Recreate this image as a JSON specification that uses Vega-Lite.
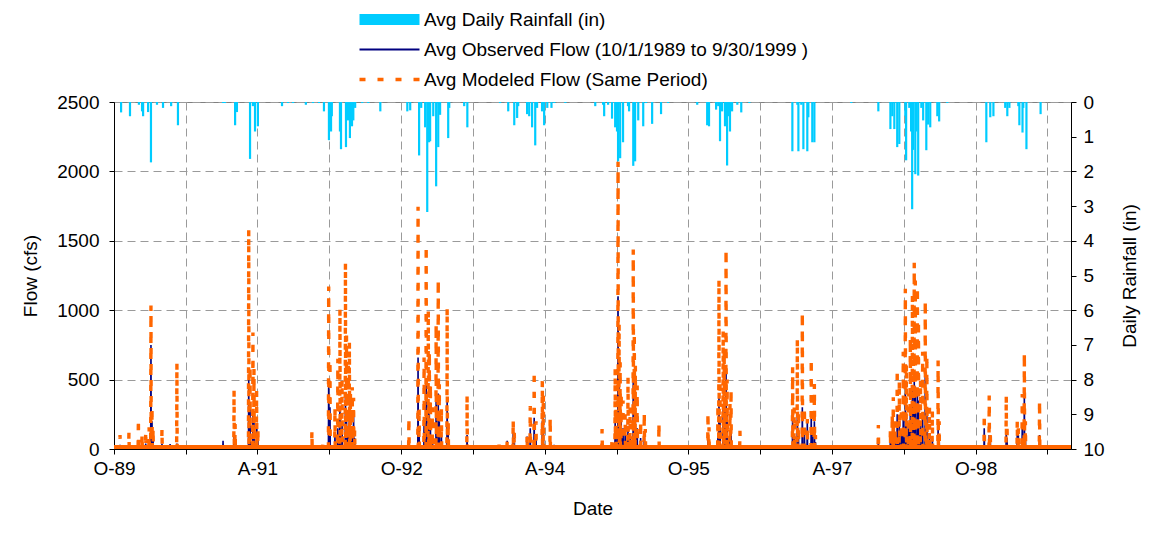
{
"$schema": "https://vega.github.io/schema/vega-lite/v6.json",
"width": 957, "height": 347,
"autosize": {"type": "none"},
"padding": {"left": 114, "top": 102, "right": 80, "bottom": 84},
"background": "white",
"config": {
  "font": "Liberation Sans",
  "view": {"stroke": "#808080", "strokeWidth": 1},
  "axis": {"labelFontSize": 19, "titleFontSize": 19, "labelColor": "#000", "titleColor": "#000", "titleFontWeight": "normal", "domainColor": "#000", "tickColor": "#000", "tickSize": 5, "labelFont": "Liberation Sans", "titleFont": "Liberation Sans", "gridDash": [8, 5], "gridColor": "#9a9a9a", "gridWidth": 1}
},
"resolve": {"scale": {"y": "independent"}},
"layer": [
{
 "data": {"values": [
{"d":"1989-10-01","o":5,"m":10},
{"d":"1989-10-23","o":5,"m":10},{"d":"1989-10-24","o":30,"m":100},{"d":"1989-10-25","o":5,"m":10},
{"d":"1989-11-26","o":5,"m":10},{"d":"1989-11-27","o":40,"m":120},{"d":"1989-11-28","o":5,"m":10},
{"d":"1990-01-01","o":5,"m":10},{"d":"1990-01-02","o":60,"m":216},{"d":"1990-01-03","o":5,"m":10},
{"d":"1990-01-15","o":5,"m":10},{"d":"1990-01-16","o":50,"m":108},{"d":"1990-01-17","o":5,"m":10},
{"d":"1990-01-29","o":5,"m":10},{"d":"1990-01-30","o":40,"m":130},{"d":"1990-01-31","o":5,"m":10},
{"d":"1990-02-11","o":5,"m":10},{"d":"1990-02-12","o":70,"m":156},{"d":"1990-02-13","o":5,"m":10},
{"d":"1990-02-18","o":5,"m":10},{"d":"1990-02-19","o":750,"m":1034},{"d":"1990-02-20","o":5,"m":10},
{"d":"1990-02-22","o":5,"m":10},{"d":"1990-02-23","o":200,"m":300},{"d":"1990-02-24","o":5,"m":10},
{"d":"1990-02-26","o":5,"m":10},{"d":"1990-02-27","o":80,"m":150},{"d":"1990-02-28","o":5,"m":10},
{"d":"1990-04-01","o":5,"m":10},{"d":"1990-04-02","o":40,"m":145},{"d":"1990-04-03","o":5,"m":10},
{"d":"1990-05-02","o":5,"m":10},{"d":"1990-05-03","o":36,"m":20},{"d":"1990-05-04","o":5,"m":10},
{"d":"1990-05-28","o":5,"m":10},{"d":"1990-05-29","o":40,"m":620},{"d":"1990-05-30","o":5,"m":10},
{"d":"1990-08-05","o":5,"m":10},{"d":"1990-08-06","o":10,"m":36},{"d":"1990-08-07","o":5,"m":10},
{"d":"1990-11-20","o":5,"m":10},{"d":"1990-11-21","o":60,"m":20},{"d":"1990-11-22","o":5,"m":10},
{"d":"1991-01-01","o":5,"m":10},{"d":"1991-01-02","o":100,"m":425},{"d":"1991-01-03","o":5,"m":10},
{"d":"1991-01-05","o":5,"m":10},{"d":"1991-01-06","o":80,"m":180},{"d":"1991-01-07","o":5,"m":10},
{"d":"1991-02-26","o":5,"m":10},{"d":"1991-02-27","o":500,"m":1580},{"d":"1991-02-28","o":5,"m":10},
{"d":"1991-03-03","o":5,"m":10},{"d":"1991-03-04","o":300,"m":600},{"d":"1991-03-05","o":5,"m":10},
{"d":"1991-03-14","o":5,"m":10},{"d":"1991-03-15","o":250,"m":840},{"d":"1991-03-16","o":5,"m":10},
{"d":"1991-03-18","o":5,"m":10},{"d":"1991-03-19","o":200,"m":577},{"d":"1991-03-20","o":5,"m":10},
{"d":"1991-03-28","o":5,"m":10},{"d":"1991-03-29","o":150,"m":420},{"d":"1991-03-30","o":5,"m":10},
{"d":"1991-04-02","o":5,"m":10},{"d":"1991-04-03","o":60,"m":150},{"d":"1991-04-04","o":5,"m":10},
{"d":"1991-07-07","o":5,"m":10},{"d":"1991-07-08","o":15,"m":5},{"d":"1991-07-09","o":5,"m":10},
{"d":"1991-10-25","o":5,"m":10},{"d":"1991-10-26","o":10,"m":132},{"d":"1991-10-27","o":5,"m":10},
{"d":"1991-12-06","o":5,"m":10},{"d":"1991-12-07","o":10,"m":40},{"d":"1991-12-08","o":5,"m":10},
{"d":"1991-12-28","o":5,"m":10},{"d":"1991-12-29","o":490,"m":1170},{"d":"1991-12-30","o":5,"m":10},
{"d":"1992-01-02","o":5,"m":10},{"d":"1992-01-03","o":300,"m":637},{"d":"1992-01-04","o":5,"m":10},
{"d":"1992-01-21","o":5,"m":10},{"d":"1992-01-22","o":100,"m":300},{"d":"1992-01-23","o":5,"m":10},
{"d":"1992-02-01","o":5,"m":10},{"d":"1992-02-02","o":150,"m":650},{"d":"1992-02-03","o":5,"m":10},
{"d":"1992-02-09","o":5,"m":10},{"d":"1992-02-10","o":300,"m":1010},{"d":"1992-02-11","o":5,"m":10},
{"d":"1992-02-17","o":5,"m":10},{"d":"1992-02-18","o":200,"m":500},{"d":"1992-02-19","o":5,"m":10},
{"d":"1992-03-01","o":5,"m":10},{"d":"1992-03-02","o":400,"m":1341},{"d":"1992-03-03","o":5,"m":10},
{"d":"1992-03-05","o":5,"m":10},{"d":"1992-03-06","o":250,"m":817},{"d":"1992-03-07","o":5,"m":10},
{"d":"1992-03-12","o":5,"m":10},{"d":"1992-03-13","o":150,"m":600},{"d":"1992-03-14","o":5,"m":10},
{"d":"1992-03-16","o":5,"m":10},{"d":"1992-03-17","o":300,"m":770},{"d":"1992-03-18","o":5,"m":10},
{"d":"1992-03-20","o":5,"m":10},{"d":"1992-03-21","o":150,"m":400},{"d":"1992-03-22","o":5,"m":10},
{"d":"1992-03-27","o":5,"m":10},{"d":"1992-03-28","o":150,"m":445},{"d":"1992-03-29","o":5,"m":10},
{"d":"1992-04-01","o":5,"m":10},{"d":"1992-04-02","o":273,"m":370},{"d":"1992-04-03","o":5,"m":10},
{"d":"1992-04-05","o":5,"m":10},{"d":"1992-04-06","o":80,"m":140},{"d":"1992-04-07","o":5,"m":10},
{"d":"1992-10-29","o":5,"m":10},{"d":"1992-10-30","o":40,"m":225},{"d":"1992-10-31","o":5,"m":10},
{"d":"1992-12-03","o":5,"m":10},{"d":"1992-12-04","o":660,"m":1746},{"d":"1992-12-05","o":5,"m":10},
{"d":"1992-12-07","o":5,"m":10},{"d":"1992-12-08","o":150,"m":300},{"d":"1992-12-09","o":5,"m":10},
{"d":"1992-12-26","o":5,"m":10},{"d":"1992-12-27","o":200,"m":660},{"d":"1992-12-28","o":5,"m":10},
{"d":"1993-01-03","o":5,"m":10},{"d":"1993-01-04","o":500,"m":1463},{"d":"1993-01-05","o":5,"m":10},
{"d":"1993-01-11","o":5,"m":10},{"d":"1993-01-12","o":350,"m":1000},{"d":"1993-01-13","o":5,"m":10},
{"d":"1993-01-15","o":5,"m":10},{"d":"1993-01-16","o":250,"m":700},{"d":"1993-01-17","o":5,"m":10},
{"d":"1993-01-19","o":5,"m":10},{"d":"1993-01-20","o":200,"m":466},{"d":"1993-01-21","o":5,"m":10},
{"d":"1993-01-27","o":5,"m":10},{"d":"1993-01-28","o":100,"m":300},{"d":"1993-01-29","o":5,"m":10},
{"d":"1993-02-10","o":5,"m":10},{"d":"1993-02-11","o":350,"m":900},{"d":"1993-02-12","o":5,"m":10},
{"d":"1993-02-18","o":5,"m":10},{"d":"1993-02-19","o":400,"m":1220},{"d":"1993-02-20","o":5,"m":10},
{"d":"1993-02-22","o":5,"m":10},{"d":"1993-02-23","o":200,"m":466},{"d":"1993-02-24","o":5,"m":10},
{"d":"1993-03-02","o":5,"m":10},{"d":"1993-03-03","o":100,"m":300},{"d":"1993-03-04","o":5,"m":10},
{"d":"1993-03-24","o":5,"m":10},{"d":"1993-03-25","o":357,"m":1017},{"d":"1993-03-26","o":5,"m":10},
{"d":"1993-03-28","o":5,"m":10},{"d":"1993-03-29","o":100,"m":200},{"d":"1993-03-30","o":5,"m":10},
{"d":"1993-06-08","o":5,"m":10},{"d":"1993-06-09","o":100,"m":386},{"d":"1993-06-10","o":5,"m":10},
{"d":"1993-10-08","o":5,"m":10},{"d":"1993-10-09","o":5,"m":31},{"d":"1993-10-10","o":5,"m":10},
{"d":"1993-11-08","o":5,"m":10},{"d":"1993-11-09","o":60,"m":55},{"d":"1993-11-10","o":5,"m":10},
{"d":"1993-12-01","o":5,"m":10},{"d":"1993-12-02","o":120,"m":212},{"d":"1993-12-03","o":5,"m":10},
{"d":"1993-12-05","o":5,"m":10},{"d":"1993-12-06","o":80,"m":140},{"d":"1993-12-07","o":5,"m":10},
{"d":"1994-01-23","o":5,"m":10},{"d":"1994-01-24","o":90,"m":104},{"d":"1994-01-25","o":5,"m":10},
{"d":"1994-02-04","o":5,"m":10},{"d":"1994-02-05","o":150,"m":309},{"d":"1994-02-06","o":5,"m":10},
{"d":"1994-02-19","o":5,"m":10},{"d":"1994-02-20","o":225,"m":563},{"d":"1994-02-21","o":5,"m":10},
{"d":"1994-02-26","o":5,"m":10},{"d":"1994-02-27","o":100,"m":200},{"d":"1994-02-28","o":5,"m":10},
{"d":"1994-03-22","o":5,"m":10},{"d":"1994-03-23","o":200,"m":490},{"d":"1994-03-24","o":5,"m":10},
{"d":"1994-03-26","o":5,"m":10},{"d":"1994-03-27","o":225,"m":394},{"d":"1994-03-28","o":5,"m":10},
{"d":"1994-04-21","o":5,"m":10},{"d":"1994-04-22","o":50,"m":225},{"d":"1994-04-23","o":5,"m":10},
{"d":"1994-05-06","o":5,"m":10},{"d":"1994-05-07","o":30,"m":43},{"d":"1994-05-08","o":5,"m":10},
{"d":"1994-11-05","o":5,"m":10},{"d":"1994-11-06","o":30,"m":144},{"d":"1994-11-07","o":5,"m":10},
{"d":"1994-12-13","o":5,"m":10},{"d":"1994-12-14","o":40,"m":84},{"d":"1994-12-15","o":5,"m":10},
{"d":"1994-12-25","o":5,"m":10},{"d":"1994-12-26","o":200,"m":577},{"d":"1994-12-27","o":5,"m":10},
{"d":"1994-12-28","o":5,"m":10},{"d":"1994-12-29","o":150,"m":300},{"d":"1994-12-30","o":5,"m":10},
{"d":"1995-01-05","o":5,"m":10},{"d":"1995-01-06","o":1100,"m":2070},{"d":"1995-01-07","o":5,"m":10},
{"d":"1995-01-09","o":5,"m":10},{"d":"1995-01-10","o":500,"m":900},{"d":"1995-01-11","o":5,"m":10},
{"d":"1995-01-13","o":5,"m":10},{"d":"1995-01-14","o":400,"m":625},{"d":"1995-01-15","o":5,"m":10},
{"d":"1995-01-17","o":5,"m":10},{"d":"1995-01-18","o":200,"m":400},{"d":"1995-01-19","o":5,"m":10},
{"d":"1995-01-24","o":5,"m":10},{"d":"1995-01-25","o":150,"m":350},{"d":"1995-01-26","o":5,"m":10},
{"d":"1995-02-01","o":5,"m":10},{"d":"1995-02-02","o":100,"m":250},{"d":"1995-02-03","o":5,"m":10},
{"d":"1995-02-12","o":5,"m":10},{"d":"1995-02-13","o":150,"m":517},{"d":"1995-02-14","o":5,"m":10},
{"d":"1995-02-20","o":5,"m":10},{"d":"1995-02-21","o":100,"m":300},{"d":"1995-02-22","o":5,"m":10},
{"d":"1995-03-04","o":5,"m":10},{"d":"1995-03-05","o":500,"m":1437},{"d":"1995-03-06","o":5,"m":10},
{"d":"1995-03-08","o":5,"m":10},{"d":"1995-03-09","o":300,"m":840},{"d":"1995-03-10","o":5,"m":10},
{"d":"1995-03-12","o":5,"m":10},{"d":"1995-03-13","o":200,"m":600},{"d":"1995-03-14","o":5,"m":10},
{"d":"1995-03-19","o":5,"m":10},{"d":"1995-03-20","o":150,"m":457},{"d":"1995-03-21","o":5,"m":10},
{"d":"1995-04-01","o":5,"m":10},{"d":"1995-04-02","o":80,"m":200},{"d":"1995-04-03","o":5,"m":10},
{"d":"1995-04-15","o":5,"m":10},{"d":"1995-04-16","o":80,"m":264},{"d":"1995-04-17","o":5,"m":10},
{"d":"1995-04-19","o":5,"m":10},{"d":"1995-04-20","o":50,"m":144},{"d":"1995-04-21","o":5,"m":10},
{"d":"1995-05-15","o":5,"m":10},{"d":"1995-05-16","o":10,"m":17},{"d":"1995-05-17","o":5,"m":10},
{"d":"1995-06-10","o":5,"m":10},{"d":"1995-06-11","o":20,"m":187},{"d":"1995-06-12","o":5,"m":10},
{"d":"1995-12-14","o":5,"m":10},{"d":"1995-12-15","o":80,"m":264},{"d":"1995-12-16","o":5,"m":10},
{"d":"1995-12-18","o":5,"m":10},{"d":"1995-12-19","o":60,"m":156},{"d":"1995-12-20","o":5,"m":10},
{"d":"1996-01-21","o":5,"m":10},{"d":"1996-01-22","o":100,"m":325},{"d":"1996-01-23","o":5,"m":10},
{"d":"1996-01-25","o":5,"m":10},{"d":"1996-01-26","o":400,"m":1221},{"d":"1996-01-27","o":5,"m":10},
{"d":"1996-01-29","o":5,"m":10},{"d":"1996-01-30","o":200,"m":500},{"d":"1996-01-31","o":5,"m":10},
{"d":"1996-02-10","o":5,"m":10},{"d":"1996-02-11","o":300,"m":853},{"d":"1996-02-12","o":5,"m":10},
{"d":"1996-02-14","o":5,"m":10},{"d":"1996-02-15","o":300,"m":721},{"d":"1996-02-16","o":5,"m":10},
{"d":"1996-02-21","o":5,"m":10},{"d":"1996-02-22","o":600,"m":1437},{"d":"1996-02-23","o":5,"m":10},
{"d":"1996-02-25","o":5,"m":10},{"d":"1996-02-26","o":250,"m":500},{"d":"1996-02-27","o":5,"m":10},
{"d":"1996-03-07","o":5,"m":10},{"d":"1996-03-08","o":120,"m":325},{"d":"1996-03-09","o":5,"m":10},
{"d":"1996-03-11","o":5,"m":10},{"d":"1996-03-12","o":150,"m":432},{"d":"1996-03-13","o":5,"m":10},
{"d":"1996-04-14","o":5,"m":10},{"d":"1996-04-15","o":40,"m":132},{"d":"1996-04-16","o":5,"m":10},
{"d":"1996-11-01","o":5,"m":10},{"d":"1996-11-02","o":250,"m":589},{"d":"1996-11-03","o":5,"m":10},
{"d":"1996-11-07","o":5,"m":10},{"d":"1996-11-08","o":100,"m":300},{"d":"1996-11-09","o":5,"m":10},
{"d":"1996-11-19","o":5,"m":10},{"d":"1996-11-20","o":250,"m":793},{"d":"1996-11-21","o":5,"m":10},
{"d":"1996-11-23","o":5,"m":10},{"d":"1996-11-24","o":150,"m":276},{"d":"1996-11-25","o":5,"m":10},
{"d":"1996-12-08","o":5,"m":10},{"d":"1996-12-09","o":300,"m":985},{"d":"1996-12-10","o":5,"m":10},
{"d":"1996-12-16","o":5,"m":10},{"d":"1996-12-17","o":100,"m":300},{"d":"1996-12-18","o":5,"m":10},
{"d":"1996-12-27","o":5,"m":10},{"d":"1996-12-28","o":200,"m":216},{"d":"1996-12-29","o":5,"m":10},
{"d":"1997-01-11","o":5,"m":10},{"d":"1997-01-12","o":250,"m":649},{"d":"1997-01-13","o":5,"m":10},
{"d":"1997-01-15","o":5,"m":10},{"d":"1997-01-16","o":100,"m":300},{"d":"1997-01-17","o":5,"m":10},
{"d":"1997-01-23","o":5,"m":10},{"d":"1997-01-24","o":200,"m":469},{"d":"1997-01-25","o":5,"m":10},
{"d":"1997-01-27","o":5,"m":10},{"d":"1997-01-28","o":50,"m":100},{"d":"1997-01-29","o":5,"m":10},
{"d":"1997-09-24","o":5,"m":10},{"d":"1997-09-25","o":60,"m":173},{"d":"1997-09-26","o":5,"m":10},
{"d":"1997-11-09","o":5,"m":10},{"d":"1997-11-10","o":80,"m":144},{"d":"1997-11-11","o":5,"m":10},
{"d":"1997-11-16","o":5,"m":10},{"d":"1997-11-17","o":100,"m":252},{"d":"1997-11-18","o":5,"m":10},
{"d":"1997-11-20","o":5,"m":10},{"d":"1997-11-21","o":150,"m":373},{"d":"1997-11-22","o":5,"m":10},
{"d":"1997-11-27","o":5,"m":10},{"d":"1997-11-28","o":100,"m":200},{"d":"1997-11-29","o":5,"m":10},
{"d":"1997-12-05","o":5,"m":10},{"d":"1997-12-06","o":250,"m":577},{"d":"1997-12-07","o":5,"m":10},
{"d":"1997-12-13","o":5,"m":10},{"d":"1997-12-14","o":200,"m":493},{"d":"1997-12-15","o":5,"m":10},
{"d":"1997-12-21","o":5,"m":10},{"d":"1997-12-22","o":120,"m":300},{"d":"1997-12-23","o":5,"m":10},
{"d":"1997-12-28","o":5,"m":10},{"d":"1997-12-29","o":250,"m":700},{"d":"1997-12-30","o":5,"m":10},
{"d":"1998-01-05","o":5,"m":10},{"d":"1998-01-06","o":400,"m":1154},{"d":"1998-01-07","o":5,"m":10},
{"d":"1998-01-09","o":5,"m":10},{"d":"1998-01-10","o":250,"m":613},{"d":"1998-01-11","o":5,"m":10},
{"d":"1998-01-17","o":5,"m":10},{"d":"1998-01-18","o":150,"m":400},{"d":"1998-01-19","o":5,"m":10},
{"d":"1998-01-24","o":5,"m":10},{"d":"1998-01-25","o":300,"m":800},{"d":"1998-01-26","o":5,"m":10},
{"d":"1998-02-01","o":5,"m":10},{"d":"1998-02-02","o":450,"m":1106},{"d":"1998-02-03","o":5,"m":10},
{"d":"1998-02-05","o":5,"m":10},{"d":"1998-02-06","o":300,"m":700},{"d":"1998-02-07","o":5,"m":10},
{"d":"1998-02-08","o":5,"m":10},{"d":"1998-02-09","o":500,"m":1341},{"d":"1998-02-10","o":5,"m":10},
{"d":"1998-02-12","o":5,"m":10},{"d":"1998-02-13","o":450,"m":1214},{"d":"1998-02-14","o":5,"m":10},
{"d":"1998-02-20","o":5,"m":10},{"d":"1998-02-21","o":400,"m":1166},{"d":"1998-02-22","o":5,"m":10},
{"d":"1998-02-24","o":5,"m":10},{"d":"1998-02-25","o":350,"m":925},{"d":"1998-02-26","o":5,"m":10},
{"d":"1998-03-04","o":5,"m":10},{"d":"1998-03-05","o":200,"m":500},{"d":"1998-03-06","o":5,"m":10},
{"d":"1998-03-12","o":5,"m":10},{"d":"1998-03-13","o":250,"m":700},{"d":"1998-03-14","o":5,"m":10},
{"d":"1998-03-22","o":5,"m":10},{"d":"1998-03-23","o":577,"m":1070},{"d":"1998-03-24","o":5,"m":10},
{"d":"1998-03-28","o":5,"m":10},{"d":"1998-03-29","o":300,"m":673},{"d":"1998-03-30","o":5,"m":10},
{"d":"1998-04-07","o":5,"m":10},{"d":"1998-04-08","o":100,"m":300},{"d":"1998-04-09","o":5,"m":10},
{"d":"1998-04-18","o":5,"m":10},{"d":"1998-04-19","o":80,"m":276},{"d":"1998-04-20","o":5,"m":10},
{"d":"1998-05-10","o":5,"m":10},{"d":"1998-05-11","o":150,"m":637},{"d":"1998-05-12","o":5,"m":10},
{"d":"1998-05-14","o":5,"m":10},{"d":"1998-05-15","o":80,"m":200},{"d":"1998-05-16","o":5,"m":10},
{"d":"1998-11-02","o":5,"m":10},{"d":"1998-11-03","o":150,"m":252},{"d":"1998-11-04","o":5,"m":10},
{"d":"1998-11-21","o":5,"m":10},{"d":"1998-11-22","o":100,"m":385},{"d":"1998-11-23","o":5,"m":10},
{"d":"1998-11-25","o":5,"m":10},{"d":"1998-11-26","o":60,"m":132},{"d":"1998-11-27","o":5,"m":10},
{"d":"1999-01-25","o":5,"m":10},{"d":"1999-01-26","o":120,"m":385},{"d":"1999-01-27","o":5,"m":10},
{"d":"1999-01-28","o":5,"m":10},{"d":"1999-01-29","o":80,"m":180},{"d":"1999-01-30","o":5,"m":10},
{"d":"1999-03-08","o":5,"m":10},{"d":"1999-03-09","o":100,"m":204},{"d":"1999-03-10","o":5,"m":10},
{"d":"1999-03-12","o":5,"m":10},{"d":"1999-03-13","o":100,"m":150},{"d":"1999-03-14","o":5,"m":10},
{"d":"1999-03-27","o":5,"m":10},{"d":"1999-03-28","o":150,"m":397},{"d":"1999-03-29","o":5,"m":10},
{"d":"1999-04-04","o":5,"m":10},{"d":"1999-04-05","o":400,"m":692},{"d":"1999-04-06","o":5,"m":10},
{"d":"1999-04-08","o":5,"m":10},{"d":"1999-04-09","o":100,"m":200},{"d":"1999-04-10","o":5,"m":10},
{"d":"1999-06-01","o":5,"m":10},{"d":"1999-06-02","o":100,"m":349},{"d":"1999-06-03","o":5,"m":10},
{"d":"1999-09-30","o":5,"m":10}
 ]},
 "layer": [
  {
   "mark": {"type": "line", "strokeWidth": 1.6, "clip": true},
   "encoding": {
    "x": {"field": "d", "type": "temporal", "title": "Date",
      "scale": {"type": "utc", "domain": [{"year":1989,"month":10,"date":1,"utc":true},{"year":1999,"month":9,"date":30,"utc":true}]},
      "axis": {"values": [{"year":1989,"month":10,"date":1,"utc":true},{"year":1990,"month":7,"date":1,"utc":true},{"year":1991,"month":4,"date":1,"utc":true},{"year":1992,"month":1,"date":1,"utc":true},{"year":1992,"month":10,"date":1,"utc":true},{"year":1993,"month":7,"date":1,"utc":true},{"year":1994,"month":4,"date":1,"utc":true},{"year":1995,"month":1,"date":1,"utc":true},{"year":1995,"month":10,"date":1,"utc":true},{"year":1996,"month":7,"date":1,"utc":true},{"year":1997,"month":4,"date":1,"utc":true},{"year":1998,"month":1,"date":1,"utc":true},{"year":1998,"month":10,"date":1,"utc":true},{"year":1999,"month":7,"date":1,"utc":true}],
        "labelExpr": "(utcFormat(datum.value,'%m')=='10' || utcFormat(datum.value,'%m')=='04') ? substring(utcFormat(datum.value,'%b'),0,1) + '-' + utcFormat(datum.value,'%y') : ''",
        "grid": true, "labelPadding": 5, "titlePadding": 21, "labelFlush": false, "labelOverlap": false}},
    "y": {"field": "o", "type": "quantitative", "title": "Flow (cfs)",
      "scale": {"domain": [0, 2500], "nice": false},
      "axis": {"values": [0, 500, 1000, 1500, 2000, 2500], "format": "d", "grid": true, "labelPadding": 10, "titlePadding": 16}},
    "color": {"datum": "Avg Observed Flow (10/1/1989 to 9/30/1999 )",
      "scale": {"domain": ["Avg Daily Rainfall (in)", "Avg Observed Flow (10/1/1989 to 9/30/1999 )", "Avg Modeled Flow (Same Period)"], "range": ["#00CCFF", "#000080", "#FF6600"]},
      "legend": {"orient": "none", "legendX": 266, "legendY": -92, "direction": "vertical", "title": null,
        "symbolType": "M-6,0H6", "symbolSize": 100, "symbolStrokeWidth": 2, "symbolOpacity": 1,
        "labelFontSize": 19, "labelFont": "Liberation Sans", "labelColor": "#000", "labelOffset": 25, "rowPadding": 10, "labelLimit": 700,
        "encode": {"symbols": {"update": {
          "shape": {"signal": "datum.value == 'Avg Daily Rainfall (in)' ? 'M-6,-1.1H6V1.1H-6Z' : 'M-6,0H6'"},
          "fill": {"signal": "datum.value == 'Avg Daily Rainfall (in)' ? '#00CCFF' : 'transparent'"},
          "strokeDash": {"signal": "datum.value == 'Avg Modeled Flow (Same Period)' ? [6,12] : [1,0]"},
          "strokeJoin": {"value": "bevel"},
          "strokeWidth": {"signal": "datum.value == 'Avg Daily Rainfall (in)' ? 0 : (datum.value == 'Avg Modeled Flow (Same Period)' ? 3.5 : 2)"}}}}}}
   }
  },
  {
   "mark": {"type": "line", "strokeWidth": 3.4, "strokeDash": [6, 10], "clip": true},
   "encoding": {
    "x": {"field": "d", "type": "temporal", "title": "Date"},
    "y": {"field": "m", "type": "quantitative", "title": "Flow (cfs)"},
    "color": {"datum": "Avg Modeled Flow (Same Period)"}
   }
  },
  {
   "mark": {"type": "line", "strokeWidth": 4, "color": "#FF6600"},
   "encoding": {
    "x": {"field": "d", "type": "temporal", "title": "Date"},
    "y": {"datum": 14, "type": "quantitative", "title": "Flow (cfs)"}
   }
  }
 ]
},
{
 "data": {"values": [
{"d":"1989-10-28","r":0.30},{"d":"1989-12-01","r":0.41},{"d":"1990-01-04","r":0.08},{"d":"1990-01-16","r":0.27},{"d":"1990-01-20","r":0.41},{"d":"1990-02-08","r":0.29},{"d":"1990-02-19","r":1.74},{"d":"1990-03-14","r":0.08},{"d":"1990-04-06","r":0.17},{"d":"1990-05-07","r":0.12},{"d":"1990-06-02","r":0.67},
{"d":"1990-11-21","r":0.03},{"d":"1990-11-28","r":0.03},{"d":"1991-01-06","r":0.67},{"d":"1991-01-13","r":0.29},{"d":"1991-03-04","r":1.64},{"d":"1991-03-15","r":0.12},{"d":"1991-03-23","r":0.85},{"d":"1991-04-03","r":0.70},{"d":"1991-07-04","r":0.12},{"d":"1991-07-27","r":0.03},{"d":"1991-08-15","r":0.03},
{"d":"1991-10-03","r":0.08},{"d":"1991-10-30","r":0.03},{"d":"1991-11-22","r":0.03},{"d":"1991-12-11","r":0.27},{"d":"1991-12-30","r":1.10},{"d":"1992-01-07","r":0.85},{"d":"1992-01-10","r":0.41},{"d":"1992-02-10","r":0.85},{"d":"1992-02-14","r":1.36},{"d":"1992-03-04","r":1.30},{"d":"1992-03-12","r":0.53},{"d":"1992-03-19","r":1.04},{"d":"1992-03-27","r":0.70},{"d":"1992-04-01","r":0.53},{"d":"1992-04-08","r":0.17},{"d":"1992-05-05","r":0.03},{"d":"1992-05-28","r":0.03},{"d":"1992-07-13","r":0.27},
{"d":"1992-10-24","r":0.27},{"d":"1992-11-04","r":0.24},{"d":"1992-12-08","r":1.54},{"d":"1992-12-16","r":0.17},{"d":"1992-12-31","r":0.73},{"d":"1993-01-08","r":3.17},{"d":"1993-01-15","r":1.16},{"d":"1993-01-19","r":1.13},{"d":"1993-01-31","r":0.41},{"d":"1993-02-11","r":2.43},{"d":"1993-02-19","r":1.30},{"d":"1993-02-26","r":0.37},{"d":"1993-03-29","r":1.04},{"d":"1993-04-02","r":0.17},{"d":"1993-05-29","r":0.12},{"d":"1993-06-10","r":0.73},
{"d":"1993-10-13","r":0.03},{"d":"1993-11-13","r":0.27},{"d":"1993-12-06","r":0.67},{"d":"1993-12-17","r":0.46},{"d":"1993-12-21","r":0.12},{"d":"1994-01-24","r":0.35},{"d":"1994-02-01","r":0.41},{"d":"1994-02-12","r":0.73},{"d":"1994-02-24","r":1.25},{"d":"1994-03-03","r":0.17},{"d":"1994-03-22","r":0.27},{"d":"1994-03-30","r":0.67},{"d":"1994-04-11","r":0.17},{"d":"1994-04-27","r":0.17},{"d":"1994-05-08","r":0.03},{"d":"1994-06-19","r":0.03},
{"d":"1994-10-11","r":0.12},{"d":"1994-11-10","r":0.08},{"d":"1994-11-14","r":0.41},{"d":"1994-11-29","r":0.08},{"d":"1994-12-14","r":0.48},{"d":"1994-12-26","r":0.73},{"d":"1995-01-02","r":0.85},{"d":"1995-01-06","r":1.71},{"d":"1995-01-14","r":1.62},{"d":"1995-01-25","r":1.16},{"d":"1995-02-13","r":0.12},{"d":"1995-02-17","r":0.27},{"d":"1995-03-05","r":1.84},{"d":"1995-03-12","r":1.71},{"d":"1995-03-24","r":0.53},{"d":"1995-04-12","r":0.70},{"d":"1995-04-23","r":0.03},{"d":"1995-05-16","r":0.63},{"d":"1995-06-19","r":0.35},{"d":"1995-07-16","r":0.03},
{"d":"1995-11-04","r":0.08},{"d":"1995-12-12","r":0.67},{"d":"1995-12-19","r":0.70},{"d":"1996-01-15","r":0.22},{"d":"1996-01-23","r":0.12},{"d":"1996-01-30","r":1.13},{"d":"1996-02-07","r":0.27},{"d":"1996-02-18","r":0.70},{"d":"1996-02-26","r":1.83},{"d":"1996-03-01","r":0.41},{"d":"1996-03-08","r":0.85},{"d":"1996-03-16","r":0.27},{"d":"1996-04-05","r":0.08},{"d":"1996-04-20","r":0.30},{"d":"1996-05-21","r":0.03},
{"d":"1996-11-01","r":1.42},{"d":"1996-11-20","r":0.08},{"d":"1996-11-24","r":1.42},{"d":"1996-12-05","r":0.08},{"d":"1996-12-13","r":1.36},{"d":"1996-12-28","r":1.42},{"d":"1997-01-01","r":0.44},{"d":"1997-01-16","r":1.16},{"d":"1997-01-24","r":1.16},{"d":"1997-06-14","r":0.03},{"d":"1997-09-25","r":0.27},
{"d":"1997-11-10","r":0.78},{"d":"1997-11-17","r":0.41},{"d":"1997-11-25","r":0.78},{"d":"1997-12-06","r":1.30},{"d":"1997-12-14","r":1.21},{"d":"1998-01-06","r":0.41},{"d":"1998-01-09","r":1.68},{"d":"1998-01-21","r":0.17},{"d":"1998-01-28","r":0.85},{"d":"1998-02-01","r":3.09},{"d":"1998-02-05","r":1.38},{"d":"1998-02-13","r":2.08},{"d":"1998-02-17","r":0.85},{"d":"1998-02-24","r":2.12},{"d":"1998-03-08","r":0.17},{"d":"1998-03-15","r":0.53},{"d":"1998-03-27","r":1.39},{"d":"1998-04-03","r":0.65},{"d":"1998-04-11","r":0.73},{"d":"1998-05-08","r":0.41},{"d":"1998-05-15","r":0.56},{"d":"1998-06-15","r":0.03},
{"d":"1998-11-11","r":1.16},{"d":"1998-11-26","r":0.44},{"d":"1998-12-08","r":0.41},{"d":"1999-01-22","r":0.17},{"d":"1999-01-30","r":0.41},{"d":"1999-02-07","r":0.17},{"d":"1999-03-13","r":0.12},{"d":"1999-03-17","r":0.67},{"d":"1999-03-29","r":0.88},{"d":"1999-04-01","r":0.17},{"d":"1999-04-13","r":1.36},{"d":"1999-06-06","r":0.35}
 ]},
 "mark": {"type": "rule", "strokeWidth": 2.2},
 "encoding": {
  "x": {"field": "d", "type": "temporal", "title": "Date"},
  "y": {"field": "r", "type": "quantitative", "title": "Daily Rainfall (in)",
    "scale": {"domain": [0, 10], "reverse": true, "nice": false},
    "axis": {"orient": "right", "values": [0,1,2,3,4,5,6,7,8,9,10], "grid": false, "labelPadding": 7, "titlePadding": 16, "titleAngle": 270, "titleBaseline": "top"}},
  "y2": {"datum": 0},
  "color": {"datum": "Avg Daily Rainfall (in)"}
 }
}
]
}
